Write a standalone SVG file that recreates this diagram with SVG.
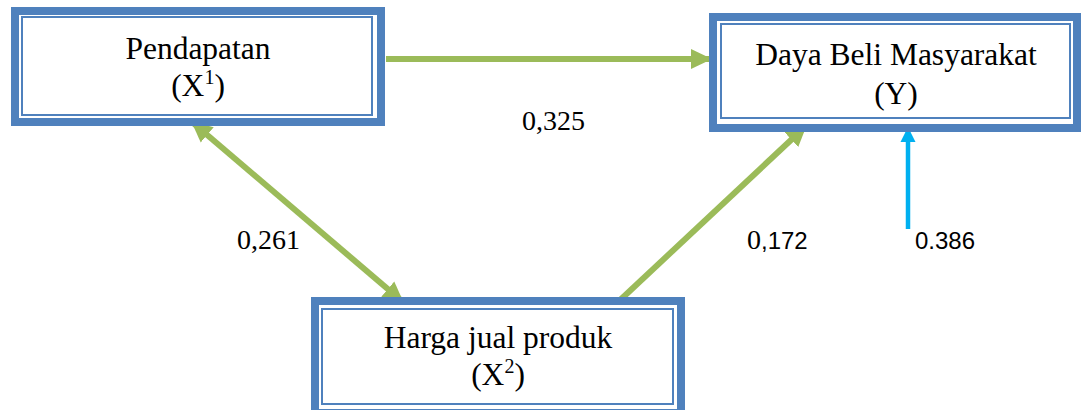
<svg xmlns="http://www.w3.org/2000/svg" width="1082" height="410" viewBox="0 0 1082 410">
<style>
.outer{fill:#fff;stroke:#4F81BD;stroke-width:8}
.inner{fill:none;stroke:#4F81BD;stroke-width:2}
.t{font-family:"Liberation Serif",serif;font-size:31.5px;fill:#000;text-anchor:middle}
.lab{font-family:"Liberation Serif",serif;font-size:28px;fill:#000}
.sans{font-family:"Liberation Sans",sans-serif;font-size:24px;fill:#000}
.g{stroke:#9BBB59;stroke-width:6;fill:none}
.c{stroke:#00B0F0;stroke-width:4.5;fill:none}
</style>
<defs>
<marker id="ag" markerUnits="userSpaceOnUse" markerWidth="22" markerHeight="22" viewBox="0 0 22 22" refX="20" refY="11" orient="auto-start-reverse">
<path d="M0,1 L21,11 L0,21 Z" fill="#9BBB59"/>
</marker>
<marker id="ac" markerUnits="userSpaceOnUse" markerWidth="16" markerHeight="16" viewBox="0 0 16 16" refX="15" refY="8" orient="auto">
<path d="M0,0.5 L15,8 L0,15.5 Z" fill="#00B0F0"/>
</marker>
</defs>
<g id="connectors">
<line class="g" x1="386" y1="59" x2="711" y2="59" marker-end="url(#ag)"/>
<line class="g" x1="192" y1="122" x2="403" y2="302" marker-start="url(#ag)" marker-end="url(#ag)"/>
<line class="g" x1="618" y1="302" x2="806" y2="126" marker-end="url(#ag)"/>
<line class="c" x1="908" y1="229" x2="908" y2="127" marker-end="url(#ac)"/>
</g>
<g id="node-x1">
<rect class="outer" x="15" y="11" width="366" height="111"/>
<rect class="inner" x="22" y="17" width="350" height="98"/>
<text class="t" x="198" y="59">Pendapatan</text>
<text class="t" x="198" y="96">(X<tspan font-size="20" dy="-12">1</tspan><tspan dy="12">)</tspan></text>
</g>
<g id="node-y">
<rect class="outer" x="713" y="17" width="364" height="111"/>
<rect class="inner" x="721" y="24" width="349" height="94"/>
<text class="t" x="896" y="65">Daya Beli Masyarakat</text>
<text class="t" x="896" y="104">(Y)</text>
</g>
<g id="node-x2">
<rect class="outer" x="315" y="301" width="366" height="112"/>
<rect class="inner" x="322" y="309" width="351" height="95"/>
<text class="t" x="498" y="348">Harga jual produk</text>
<text class="t" x="498" y="385">(X<tspan font-size="20" dy="-12">2</tspan><tspan dy="12">)</tspan></text>
</g>
<g id="labels">
<text class="lab" x="522" y="130">0,325</text>
<text class="lab" x="237" y="249">0,261</text>
<text x="747" y="249"><tspan class="lab" font-size="26">0</tspan><tspan class="sans">,172</tspan></text>
<text class="sans" x="915" y="249">0.386</text>
</g>
</svg>
